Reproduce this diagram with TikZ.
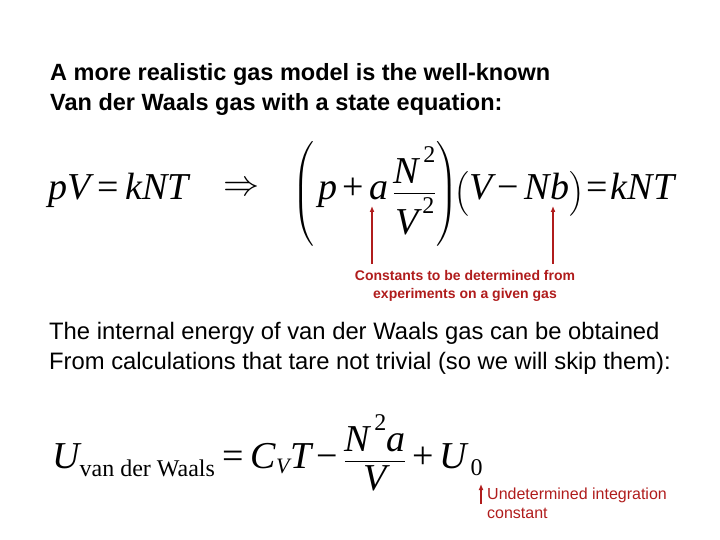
\documentclass[tikz,border=0pt]{standalone}
\usepackage{fontspec}
\usepackage{amsmath}
\setmainfont{Liberation Sans}
\newfontfamily\serif{Liberation Serif}
\newcommand{\I}[1]{\text{\serif\itshape #1}}
\newcommand{\R}[1]{\text{\serif #1}}
\newcommand{\sq}{\,\raisebox{0.55em}{\fontsize{24}{26}\selectfont\serif 2}}
\newcommand{\Eq}{\mathrel{\R{=}}}
\newcommand{\Pl}{\mathbin{\R{+}}}
\newcommand{\Mi}{\mathbin{\R{\textminus}}}
\definecolor{dred}{HTML}{B01C1C}
\begin{document}
\begin{tikzpicture}[x=1pt,y=-1pt,
  body/.style={anchor=base west,inner sep=0},
  eq/.style={inner sep=0,font=\fontsize{38}{44}\selectfont},
  redarrow/.style={draw=dred,line width=1.6pt,-{Latex[length=6pt,width=5pt]}}]
\useasboundingbox (0,0) rectangle (720,540);
\usetikzlibrary{arrows.meta}
\node[body,font=\fontsize{23.5}{28}\selectfont\bfseries] (t1) at (50,81) {A more realistic gas model is the well-known};
\node[body,font=\fontsize{23.5}{28}\selectfont\bfseries] (t2) at (50,111) {Van der Waals gas with a state equation:};
\node[eq,anchor=base west] (e1) at (48,200) {$\I{pV}\Eq\I{kNT}$};
\node[inner sep=0] (imp) at (241,189) {\scalebox{3.6}{$\Rightarrow$}};
\node[eq,anchor=base west] (e2) at (292,200) {$\left(\vphantom{\rule{0pt}{46pt}}\,\I{p}\Pl\I{a}\,\dfrac{\I{N}\sq}{\I{V}\sq}\right)\!\!\Bigl(\I{V}\Mi\I{Nb}\Bigr)\!\Eq\!\I{kNT}$};
\coordinate (a1) at (372,264);
\coordinate (a2) at (372,206);
\coordinate (b1) at (553,264);
\coordinate (b2) at (553,206);
\draw[redarrow] (a1) -- (a2);
\draw[redarrow] (b1) -- (b2);
\node[dred,font=\fontsize{14}{18}\selectfont\bfseries,align=center,inner sep=0] (c) at (465,286) {Constants to be determined from\\experiments on a given gas};
\node[body,font=\fontsize{23.8}{28}\selectfont] (p1) at (49,339) {The internal energy of van der Waals gas can be obtained};
\node[body,font=\fontsize{23.8}{28}\selectfont] (p2) at (49,369) {From calculations that tare not trivial (so we will skip them):};
\node[eq,anchor=base west] (e3) at (52,468) {$\I{U}_{\R{\fontsize{24}{26}\selectfont van der Waals}}\Eq\I{C}_{\I{\fontsize{22}{24}\selectfont V}}\I{T}\Mi\dfrac{\I{N}\sq\I{a}}{\I{V}}\Pl\I{U}_{\,\R{\fontsize{24}{26}\selectfont 0}}$};
\coordinate (u1) at (481,504);
\coordinate (u2) at (481,484);
\draw[redarrow] (u1) -- (u2);
\node[anchor=north west,dred,font=\fontsize{16}{19}\selectfont,align=left,inner sep=0] (u) at (487,488) {Undetermined integration\\constant};
\end{tikzpicture}
\end{document}
